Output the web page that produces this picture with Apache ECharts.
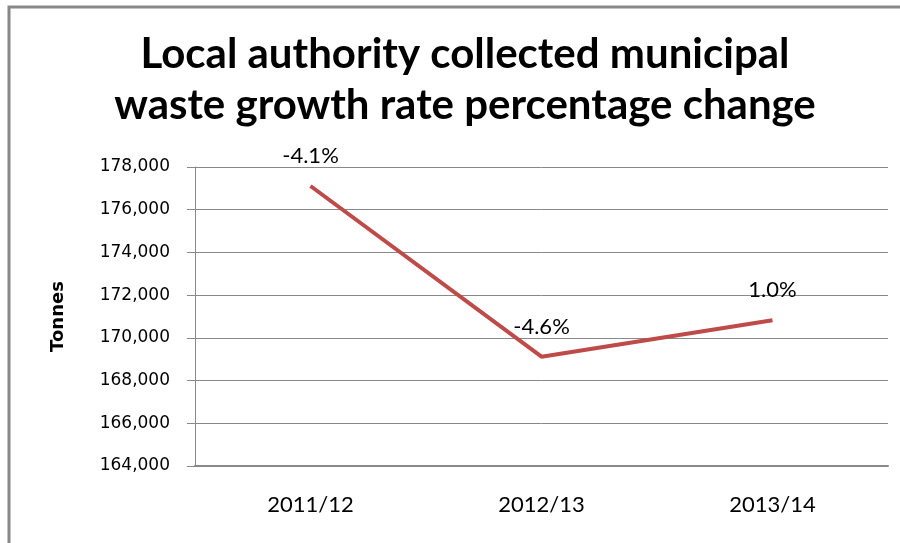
<!DOCTYPE html>
<html>
<head>
<meta charset="utf-8">
<script src="https://cdn.jsdelivr.net/npm/echarts@6/dist/echarts.min.js"></script>
<style>
html,body{margin:0;padding:0;background:#fff;}
#chart{width:900px;height:543px;}
</style>
</head>
<body>
<div id="chart"></div>
<script>
const categories = ['2011/12', '2012/13', '2013/14'];
const tonnes = [177110, 169120, 170820];
const growthLabels = ['-4.1%', '-4.6%', '1.0%'];
const titleText = 'Local authority collected municipal\nwaste growth rate percentage change';

const humanist = "'Lato', sans-serif";
const chart = echarts.init(document.getElementById('chart'));
chart.setOption({
  animation: false,
  backgroundColor: '#fff',
  title: {
    text: titleText,
    left: 460,
    textAlign: 'center',
    top: 24,
    textStyle: {
      fontFamily: humanist,
      fontWeight: 'bold',
      fontSize: 42,
      lineHeight: 51,
      color: '#000'
    }
  },
  graphic: [{
    type: 'polyline',
    silent: true,
    shape: { points: [[9, 600], [9, 7], [960, 7]] },
    style: { fill: 'none', stroke: '#888', lineWidth: 3 }
  }],
  grid: { left: 195, right: 12, top: 167, bottom: 77 },
  xAxis: {
    type: 'category',
    data: categories,
    boundaryGap: true,
    axisLine: { lineStyle: { color: '#888', width: 2 } },
    axisTick: { show: false },
    axisLabel: {
      margin: 28,
      fontFamily: humanist,
      fontSize: 22,
      color: '#000'
    }
  },
  yAxis: {
    type: 'value',
    min: 164000,
    max: 178000,
    interval: 2000,
    name: 'Tonnes',
    nameLocation: 'middle',
    nameGap: 128,
    nameTextStyle: {
      fontFamily: 'DejaVu Sans',
      fontWeight: 'bold',
      fontSize: 18,
      color: '#000'
    },
    axisLine: { show: true, lineStyle: { color: '#888', width: 1 } },
    axisTick: { show: true, length: 8, lineStyle: { color: '#888' } },
    splitLine: { lineStyle: { color: '#888', width: 1 } },
    axisLabel: {
      margin: 25,
      fontFamily: 'DejaVu Sans',
      fontSize: 17,
      color: '#000',
      formatter: v => v.toLocaleString('en-US')
    }
  },
  series: [{
    type: 'line',
    data: tonnes,
    symbol: 'circle',
    symbolSize: 0,
    showSymbol: true,
    lineStyle: { color: '#BE4B48', width: 4 },
    itemStyle: { color: '#BE4B48', opacity: 0 },
    label: {
      show: true,
      position: 'top',
      distance: 19,
      fontFamily: humanist,
      fontSize: 22,
      color: '#000',
      opacity: 1,
      formatter: p => growthLabels[p.dataIndex]
    }
  }]
});
</script>
</body>
</html>
